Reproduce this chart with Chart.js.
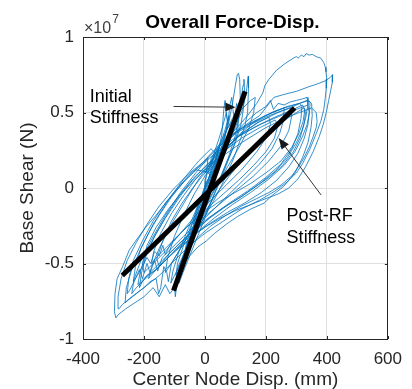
<!DOCTYPE html>
<html>
<head>
<meta charset="utf-8">
<title>Overall Force-Disp.</title>
<script src="https://cdn.jsdelivr.net/npm/chart.js@4.4.1/dist/chart.umd.min.js"></script>
<style>
  html, body { margin: 0; padding: 0; background: #fff; }
</style>
</head>
<body>
<canvas id="chart" width="412" height="389"></canvas>
<script>
// hysteresis: [center node disp (mm), base shear (x1e7 N)]
const loop01 = [[0,0],[15,0.08],[30,0.17],[45,0.26],[38,0.2],[20,0.08],[0,-0.04],[-20,-0.14],[-38,-0.24],[-30,-0.18],[-12,-0.07],[0,0.01]];
const loop02 = [[20,0.1],[45,0.25],[65,0.38],[80,0.48],[72,0.4],[50,0.24],[20,0.06],[-15,-0.15],[-45,-0.32],[-62,-0.44],[-55,-0.36],[-30,-0.2],[0,-0.02]];
const loop03 = [[30,0.12],[60,0.3],[80,0.45],[92,0.58],[100,0.68],[106,0.75],[110,0.76],[114,0.72],[116,0.6],[112,0.47],[100,0.35],[80,0.22],[50,0.06],[15,-0.12],[-20,-0.3],[-50,-0.45],[-72,-0.56],[-85,-0.63],[-80,-0.55],[-60,-0.42],[-30,-0.25],[0,-0.08]];
const loop04 = [[30,0.05],[60,0.2],[85,0.33],[100,0.4],[112,0.47],[120,0.5],[128,0.56],[135,0.62],[142,0.74],[143,0.66],[140,0.5],[132,0.42],[118,0.33],[95,0.2],[65,0.06],[30,-0.08],[-10,-0.22],[-45,-0.36],[-75,-0.48],[-100,-0.58],[-112,-0.63],[-105,-0.55],[-85,-0.42],[-55,-0.27],[-20,-0.1],[10,0.04]];
const loop05 = [[40,0.2],[55,0.35],[62,0.52],[66,0.58],[70,0.5],[75,0.42],[82,0.55],[88,0.6],[92,0.52],[96,0.45],[104,0.56],[110,0.5],[108,0.38],[95,0.28],[70,0.15],[40,0],[0,-0.18],[-40,-0.35],[-70,-0.48],[-90,-0.57],[-98,-0.66],[-94,-0.6],[-80,-0.5],[-60,-0.38],[-30,-0.22],[0,-0.05]];
const loop06 = [[30,0.1],[70,0.25],[110,0.35],[150,0.42],[190,0.47],[230,0.51],[260,0.53],[258,0.45],[245,0.36],[220,0.26],[180,0.16],[130,0.06],[80,-0.04],[30,-0.14],[-20,-0.24],[-70,-0.35],[-120,-0.46],[-160,-0.54],[-185,-0.6],[-175,-0.52],[-150,-0.4],[-110,-0.24],[-60,-0.07],[-20,0.06],[20,0.17]];
const loop07 = [[60,0.28],[100,0.36],[150,0.42],[200,0.47],[250,0.51],[290,0.54],[310,0.56],[318,0.54],[315,0.46],[305,0.36],[285,0.26],[250,0.16],[200,0.07],[140,-0.02],[80,-0.1],[20,-0.19],[-40,-0.3],[-100,-0.42],[-150,-0.52],[-195,-0.6],[-225,-0.66],[-240,-0.7],[-232,-0.6],[-210,-0.48],[-175,-0.34],[-130,-0.18],[-80,-0.03],[-30,0.1],[10,0.2]];
const loop08 = [[50,0.28],[100,0.37],[160,0.44],[220,0.5],[270,0.54],[310,0.56],[335,0.58],[345,0.57],[343,0.5],[335,0.42],[320,0.34],[295,0.24],[260,0.15],[210,0.06],[150,-0.03],[90,-0.11],[30,-0.2],[-30,-0.3],[-80,-0.4],[-110,-0.5],[-120,-0.62],[-125,-0.56],[-135,-0.52],[-145,-0.66],[-152,-0.7],[-160,-0.6],[-180,-0.62],[-200,-0.66],[-225,-0.7],[-250,-0.74],[-262,-0.76],[-258,-0.66],[-240,-0.54],[-210,-0.4],[-170,-0.24],[-120,-0.08],[-70,0.06],[-20,0.18],[20,0.26]];
const loop09 = [[80,0.34],[140,0.42],[200,0.48],[260,0.53],[310,0.56],[340,0.58],[350,0.56],[352,0.48],[348,0.4],[338,0.3],[320,0.2],[295,0.1],[258,0.01],[220,-0.05],[194,-0.1],[150,-0.14],[106,-0.19],[70,-0.24],[32,-0.3],[5,-0.35],[-23,-0.39],[-50,-0.45],[-77,-0.52],[-90,-0.6],[-97,-0.72],[-100,-0.66],[-115,-0.7],[-130,-0.64],[-150,-0.72],[-170,-0.66],[-200,-0.72],[-230,-0.76],[-260,-0.8],[-285,-0.84],[-292,-0.86],[-297,-0.82],[-295,-0.7],[-288,-0.6],[-270,-0.52],[-248,-0.41],[-220,-0.33],[-194,-0.26],[-160,-0.18],[-129,-0.1],[-95,-0.02],[-65,0.05],[-30,0.12],[0,0.185],[30,0.25],[65,0.32],[106,0.4]];
const loop10 = [[140,0.48],[170,0.56],[190,0.63],[197,0.68],[210,0.72],[235,0.78],[260,0.82],[290,0.86],[300,0.87],[306,0.86],[316,0.88],[325,0.87],[332,0.89],[342,0.88],[352,0.885],[365,0.87],[380,0.86],[390,0.83],[395,0.8],[397,0.77],[400,0.72],[398,0.66],[395,0.6],[390,0.52],[380,0.44],[365,0.36],[345,0.26],[320,0.16],[300,0.1],[270,0.04],[230,-0.02],[180,-0.08],[120,-0.14],[60,-0.22],[0,-0.3],[-50,-0.38],[-100,-0.48],[-150,-0.58],[-200,-0.66],[-240,-0.72],[-270,-0.77],[-282,-0.8],[-285,-0.72],[-275,-0.6],[-255,-0.48],[-225,-0.36],[-190,-0.24],[-150,-0.12],[-100,0],[-50,0.1],[0,0.18]];
const loop11 = [[60,0.3],[120,0.4],[180,0.48],[226,0.6],[260,0.62],[300,0.64],[340,0.67],[370,0.69],[395,0.71],[410,0.73],[419,0.75],[418,0.7],[413,0.65],[406,0.58],[398,0.5],[388,0.42],[375,0.34],[355,0.24],[330,0.14],[305,0.06],[275,0],[240,-0.04],[200,-0.07],[150,-0.11],[100,-0.15],[50,-0.2],[0,-0.26],[-40,-0.32]];
const loop12 = [[-10,-0.2],[30,-0.06],[80,0.08],[130,0.2],[180,0.3],[230,0.4],[270,0.46],[300,0.5],[325,0.53],[330,0.5],[325,0.42],[312,0.33],[290,0.24],[255,0.15],[210,0.07],[160,0],[110,-0.07],[60,-0.13],[10,-0.2],[-40,-0.28],[-90,-0.38],[-140,-0.48],[-180,-0.56],[-210,-0.62],[-220,-0.64],[-212,-0.55],[-190,-0.42],[-160,-0.3],[-120,-0.16],[-80,-0.04],[-40,0.06],[0,0.14]];
const loop13 = [[30,0.22],[55,0.3],[75,0.4],[90,0.46],[100,0.5],[118,0.58],[125,0.68],[128,0.72],[130,0.64],[126,0.52],[118,0.42],[100,0.3],[70,0.16],[35,0],[0,-0.14],[-40,-0.3],[-70,-0.44],[-88,-0.52],[-95,-0.58],[-90,-0.5],[-70,-0.38],[-40,-0.22],[-10,-0.06],[20,0.08]];
const loop14 = [[40,0.18],[80,0.28],[120,0.36],[170,0.43],[210,0.47],[215,0.42],[200,0.33],[170,0.24],[120,0.12],[70,0.02],[20,-0.08],[-30,-0.18],[-80,-0.3],[-130,-0.42],[-170,-0.5],[-200,-0.56],[-205,-0.5],[-190,-0.38],[-160,-0.26],[-120,-0.14],[-80,-0.04],[-40,0.04],[0,0.12],[40,0.2]];
const loop15 = [[60,0.25],[120,0.36],[180,0.44],[240,0.5],[280,0.53],[285,0.48],[275,0.38],[250,0.28],[210,0.18],[160,0.08],[100,-0.02],[40,-0.12],[-20,-0.22],[-70,-0.32],[-110,-0.4],[-140,-0.46],[-155,-0.55],[-165,-0.48],[-180,-0.56],[-190,-0.5],[-205,-0.6],[-215,-0.54],[-232,-0.62],[-248,-0.68],[-255,-0.7],[-250,-0.6],[-235,-0.48],[-205,-0.35],[-170,-0.22],[-130,-0.1],[-90,0],[-45,0.1],[0,0.17]];
const loop16 = [[50,0.2],[120,0.3],[200,0.4],[260,0.46],[310,0.5],[350,0.53],[365,0.5],[368,0.44],[365,0.4],[355,0.34],[342,0.27],[325,0.2],[310,0.15],[285,0.08],[250,0.02],[210,-0.03],[170,-0.07],[120,-0.12],[70,-0.18],[20,-0.25],[-25,-0.33],[-60,-0.42],[-80,-0.5],[-85,-0.56],[-70,-0.45],[-45,-0.3],[-15,-0.15],[0,-0.05]];
const loop17 = [[0,0.05],[25,0.2],[45,0.32],[60,0.42],[70,0.5],[74,0.45],[65,0.32],[45,0.18],[20,0.04],[-10,-0.12],[-35,-0.26],[-55,-0.38],[-68,-0.47],[-62,-0.38],[-45,-0.26],[-20,-0.1],[5,0.04]];
const loop18 = [[10,0.1],[40,0.26],[70,0.38],[95,0.46],[120,0.52],[150,0.58],[165,0.6],[160,0.5],[145,0.4],[115,0.28],[80,0.16],[40,0.02],[0,-0.12],[-40,-0.26],[-80,-0.4],[-110,-0.5],[-130,-0.56],[-122,-0.46],[-100,-0.32],[-70,-0.18],[-35,-0.04],[0,0.08]];
const loop19 = [[0,0.1],[60,0.24],[120,0.33],[180,0.4],[230,0.45],[240,0.42],[228,0.33],[200,0.24],[160,0.15],[110,0.05],[60,-0.04],[10,-0.13],[-40,-0.22],[-80,-0.3],[-110,-0.36],[-130,-0.44],[-138,-0.38],[-150,-0.45],[-165,-0.42],[-178,-0.5],[-190,-0.46],[-205,-0.52],[-222,-0.58],[-235,-0.62],[-228,-0.52],[-210,-0.4],[-185,-0.3],[-150,-0.18],[-110,-0.06],[-70,0.04],[-30,0.12]];
const loop20 = [[20,0.2],[90,0.32],[160,0.4],[230,0.47],[290,0.52],[320,0.55],[328,0.52],[322,0.44],[308,0.36],[285,0.27],[250,0.18],[200,0.1],[150,0.03],[90,-0.04],[40,-0.1],[-10,-0.17],[-60,-0.26],[-110,-0.36],[-150,-0.44],[-175,-0.5],[-168,-0.42],[-145,-0.3],[-110,-0.17],[-70,-0.05],[-30,0.06],[10,0.15]];
const loop21 = [[40,0.22],[110,0.34],[180,0.42],[250,0.48],[300,0.52],[338,0.55],[342,0.5],[338,0.42],[326,0.33],[305,0.23],[275,0.14],[235,0.05],[185,-0.03],[130,-0.1],[75,-0.16],[20,-0.23],[-30,-0.3],[-75,-0.38],[-120,-0.46],[-160,-0.54],[-190,-0.58],[-205,-0.62],[-215,-0.66],[-208,-0.56],[-192,-0.44],[-165,-0.32],[-130,-0.2],[-90,-0.08],[-50,0.03],[-10,0.12]];
const loop22 = [[30,0.2],[80,0.33],[130,0.43],[170,0.5],[200,0.54],[215,0.58],[225,0.52],[240,0.56],[260,0.55],[280,0.57],[300,0.58],[320,0.59],[335,0.6],[338,0.55],[330,0.46],[318,0.38],[300,0.3],[270,0.2],[230,0.11],[180,0.03],[125,-0.05],[70,-0.12],[15,-0.2],[-35,-0.28],[-80,-0.36],[-120,-0.44],[-150,-0.52],[-158,-0.47],[-140,-0.36],[-110,-0.22],[-75,-0.1],[-40,0],[0,0.1]];

const loops = [loop01, loop02, loop17, loop03, loop05, loop04, loop13, loop18, loop14, loop19,
               loop06, loop20, loop15, loop07, loop12, loop21, loop22, loop08, loop16, loop09,
               loop10, loop11];

// stiffness lines (end points)
const initialStiffness = [[-103, -0.68], [132, 0.64]];
const postRfStiffness = [[-271, -0.58], [294, 0.53]];

const xTicks = [-400, -200, 0, 200, 400, 600];
const yTicks = [-1, -0.5, 0, 0.5, 1];

const FONT = '"Liberation Sans", Arial, Helvetica, sans-serif';
const AXIS = '#262626';

function toPoints(list) {
    return list.map(p => ({ x: p[0], y: p[1] }));
}

function drawArrow(ctx, x1, y1, x2, y2, len, half) {
    const ang = Math.atan2(y2 - y1, x2 - x1);
    const c = Math.cos(ang), s = Math.sin(ang);
    ctx.beginPath();
    ctx.moveTo(x1, y1);
    ctx.lineTo(x2 - c * len * 0.7, y2 - s * len * 0.7);
    ctx.stroke();
    ctx.beginPath();
    ctx.moveTo(x2, y2);
    ctx.lineTo(x2 - len * c + half * s, y2 - len * s - half * c);
    ctx.lineTo(x2 - len * c - half * s, y2 - len * s + half * c);
    ctx.closePath();
    ctx.fill();
}

// box, inward ticks, title, exponent and the two callouts
const decorations = {
    id: 'decorations',
    afterDraw(chart) {
        const { ctx, chartArea: a, scales: { x, y } } = chart;
        ctx.save();

        ctx.strokeStyle = AXIS;
        ctx.lineWidth = 1;
        ctx.beginPath();
        ctx.moveTo(a.left, Math.round(a.top) + 0.5);
        ctx.lineTo(a.right, Math.round(a.top) + 0.5);
        ctx.moveTo(Math.round(a.right) - 0.5, a.top);
        ctx.lineTo(Math.round(a.right) - 0.5, a.bottom);
        xTicks.forEach(v => {
            const px = Math.round(x.getPixelForValue(v)) + 0.5;
            ctx.moveTo(px, a.bottom); ctx.lineTo(px, a.bottom - 3);
            ctx.moveTo(px, a.top); ctx.lineTo(px, a.top + 3);
        });
        yTicks.forEach(v => {
            const py = Math.round(y.getPixelForValue(v)) + 0.5;
            ctx.moveTo(a.left, py); ctx.lineTo(a.left + 3, py);
            ctx.moveTo(a.right, py); ctx.lineTo(a.right - 3, py);
        });
        ctx.stroke();

        // title
        ctx.fillStyle = '#000';
        ctx.textAlign = 'center';
        ctx.textBaseline = 'alphabetic';
        ctx.font = 'bold 19px ' + FONT;
        ctx.fillText('Overall Force-Disp.', (a.left + a.right) / 2 - 3, 28);

        // exponent
        ctx.fillStyle = '#404040';
        ctx.textAlign = 'left';
        ctx.font = '16px ' + FONT;
        ctx.fillText('\u00d710', a.left + 1, a.top - 4);
        const w = ctx.measureText('\u00d710').width;
        ctx.font = '12px ' + FONT;
        ctx.fillText('7', a.left + 2 + w, a.top - 14);

        // callouts
        ctx.fillStyle = '#000';
        ctx.font = '18px ' + FONT;
        ctx.fillText('Initial', x.getPixelForValue(-378), y.getPixelForValue(0.57));
        ctx.fillText('Stiffness', x.getPixelForValue(-378), y.getPixelForValue(0.43));
        ctx.fillText('Post-RF', x.getPixelForValue(268), y.getPixelForValue(-0.22));
        ctx.fillText('Stiffness', x.getPixelForValue(268), y.getPixelForValue(-0.365));

        ctx.strokeStyle = '#333';
        ctx.fillStyle = '#1a1a1a';
        ctx.lineWidth = 1;
        drawArrow(ctx, x.getPixelForValue(-103), y.getPixelForValue(0.54),
                  x.getPixelForValue(100), y.getPixelForValue(0.535), 10, 4.5);
        drawArrow(ctx, x.getPixelForValue(381), y.getPixelForValue(-0.046),
                  x.getPixelForValue(242), y.getPixelForValue(0.331), 11, 4.5);
        ctx.restore();
    }
};

const ctx = document.getElementById('chart').getContext('2d');
new Chart(ctx, {
    type: 'scatter',
    data: {
        datasets: [
            {
                label: 'Initial Stiffness',
                data: toPoints(initialStiffness),
                showLine: true,
                borderColor: '#000',
                borderWidth: 5,
                pointRadius: 0,
                order: 0
            },
            {
                label: 'Post-RF Stiffness',
                data: toPoints(postRfStiffness),
                showLine: true,
                borderColor: '#000',
                borderWidth: 5,
                pointRadius: 0,
                order: 0
            },
            {
                label: 'Response',
                data: toPoints(loops.flat()),
                showLine: true,
                borderColor: 'rgb(0, 114, 189)',
                borderWidth: 0.8,
                pointRadius: 0,
                tension: 0,
                order: 1
            }
        ]
    },
    options: {
        responsive: false,
        animation: false,
        layout: { padding: { top: 37, right: 19, left: 0, bottom: 0 } },
        plugins: {
            legend: { display: false },
            tooltip: { enabled: false },
            title: { display: false }
        },
        scales: {
            x: {
                type: 'linear',
                min: -400,
                max: 600,
                afterBuildTicks: s => { s.ticks = xTicks.map(v => ({ value: v })); },
                afterFit: s => { s.height = 50; },
                grid: { color: '#e0e0e0', drawTicks: false },
                border: { color: AXIS, width: 1 },
                ticks: { padding: 10, color: AXIS, maxRotation: 0, font: { family: FONT, size: 17 },
                         callback: v => String(v) },
                title: {
                    display: true,
                    text: 'Center Node Disp. (mm)',
                    color: AXIS,
                    font: { family: FONT, size: 19, lineHeight: 1 },
                    padding: { top: 0, bottom: 0 }
                }
            },
            y: {
                type: 'linear',
                min: -1,
                max: 1,
                afterBuildTicks: s => { s.ticks = yTicks.map(v => ({ value: v })); },
                afterFit: s => { s.width = 83; },
                grid: { color: '#e0e0e0', drawTicks: false },
                border: { color: AXIS, width: 1 },
                ticks: { padding: 9, color: AXIS, font: { family: FONT, size: 17 },
                         callback: v => String(v) },
                title: {
                    display: true,
                    text: 'Base Shear (N)',
                    color: AXIS,
                    font: { family: FONT, size: 19, lineHeight: 1 },
                    padding: { top: 18, bottom: 0 }
                }
            }
        }
    },
    plugins: [decorations]
});
</script>
</body>
</html>
